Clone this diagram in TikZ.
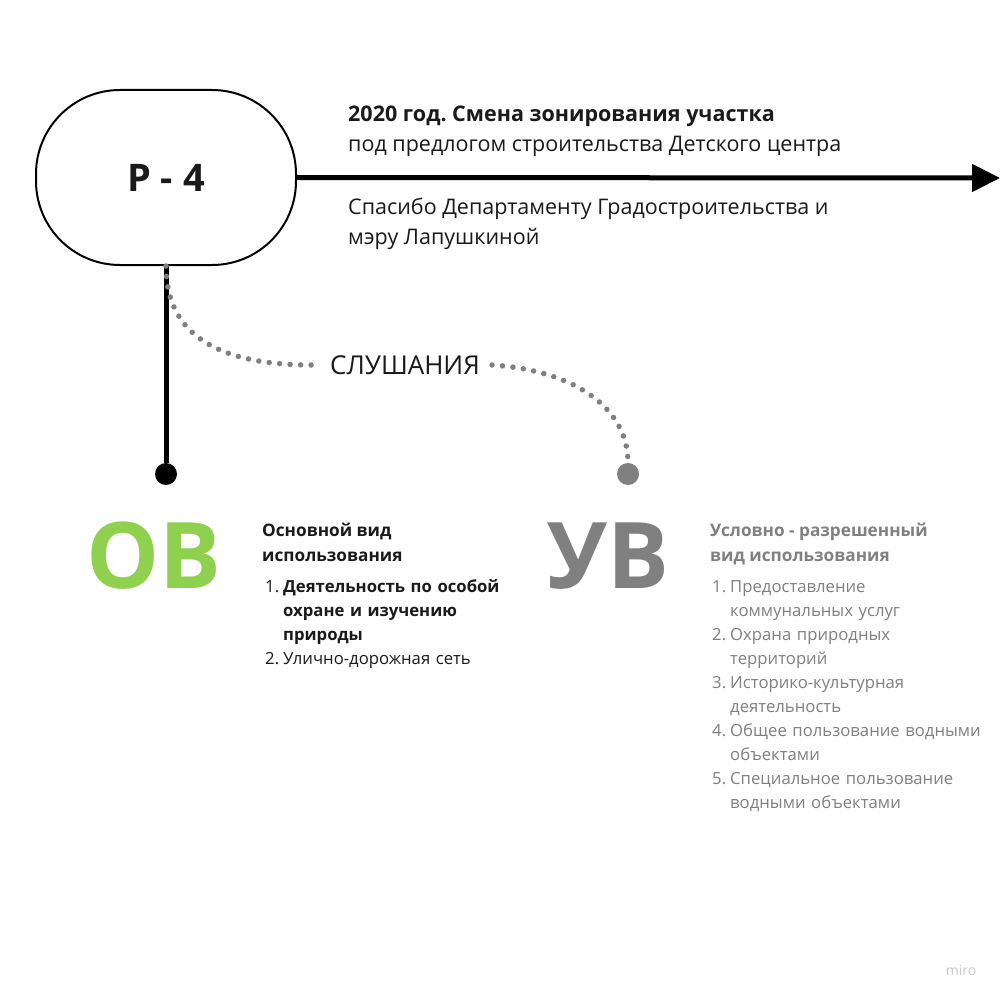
\documentclass[tikz,border=0pt]{standalone}
\usepackage{fontspec}
\setmainfont{Open Sans}
\frenchspacing
\usetikzlibrary{positioning,arrows.meta}
\definecolor{okgreen}{HTML}{8FD14F}
\definecolor{softgrey}{HTML}{808080}
\definecolor{inkblack}{HTML}{1A1A1A}
\definecolor{markgrey}{HTML}{C8C8C8}
\tikzset{
    zone/.style={draw=black, line width=2pt, rounded corners=84pt,
        minimum width=260pt, minimum height=175pt, inner sep=0pt,
        text=inkblack, font=\bfseries\fontsize{38}{40}\selectfont},
    timeline/.style={draw=black, line width=5pt,
        -{Triangle[length=28pt,width=27pt]}},
    ownline/.style={draw=black, line width=5pt},
    hearing/.style={draw=softgrey, line width=5.5pt, line cap=round,
        dash pattern=on 0pt off 10.5pt},
    pin/.style={circle, inner sep=0pt, minimum size=22pt},
    bigcode/.style={inner sep=0pt, anchor=base west,
        font=\bfseries\fontsize{92}{92}\selectfont},
    note/.style={inner sep=0pt, anchor=base west, align=left,
        font=\fontsize{21.5}{30}\selectfont, text=inkblack},
    head/.style={inner sep=0pt, anchor=base west, align=left,
        font=\bfseries\fontsize{17.2}{25}\selectfont},
    items/.style={inner sep=0pt, anchor=base west,
        text width=290pt, font=\fontsize{16.7}{24}\selectfont},
}
\newcommand{\numitem}[1]{\hangindent=18pt\hangafter=1\noindent\makebox[18pt][l]{#1}}

\begin{document}
\begin{tikzpicture}[x=1pt, y=-1pt]
\useasboundingbox (0,0) rectangle (1000,1000);
% zone box and time line
\node[zone] (p4) at (166,177.5) {Р - 4};
\coordinate (future) at (1000,178);
\draw[timeline] (p4.east) -- (future);
\node[note] (news) at (348,152) {\textbf{2020 год. Смена зонирования участка}\\
    под предлогом строительства Детского центра};
\node[note] (thanks) at (348,244) {Спасибо Департаменту Градостроительства и\\
    мэру Лапушкиной};
% main use
\node[pin, fill=black] (ovpin) at (166,474) {};
\draw[ownline] (p4.south) -- (ovpin);
% conditional use, after hearings
\node[pin, fill=softgrey] (uvpin) at (628,474) {};
\node[inner xsep=12pt, inner ysep=5pt, font=\fontsize{26}{26}\selectfont, text=inkblack]
    (hear) at (405,365) {СЛУШАНИЯ};
\draw[hearing] (p4.south) .. controls (166,345) and (235,366) .. (hear.west);
\draw[hearing] (hear.east) .. controls (570,370) and (628,405) .. (uvpin);
% OV block
\node[bigcode, text=okgreen] (ov) at (86,588) {ОВ};
\node[head, text=inkblack] (ovhead) at (262,561) {Основной вид\\использования};
\node[items, text=inkblack] (ovlist) at (265,592) {%
    \numitem{1.}\textbf{Деятельность по особой\newline охране и изучению\newline природы}\par
    \numitem{2.}Улично-дорожная сеть\par};
% UV block
\node[bigcode, text=softgrey] (uv) at (547,588) {УВ};
\node[head, text=softgrey] (uvhead) at (710,561) {Условно - разрешенный\\вид использования};
\node[items, text=softgrey] (uvlist) at (712,592) {%
    \numitem{1.}Предоставление\newline коммунальных услуг\par
    \numitem{2.}Охрана природных\newline территорий\par
    \numitem{3.}Историко-культурная\newline деятельность\par
    \numitem{4.}Общее пользование водными\newline объектами\par
    \numitem{5.}Специальное пользование\newline водными объектами\par};
\node[inner sep=0pt, text=markgrey, font=\fontsize{14}{14}\selectfont]
    (brand) at (961,970) {miro};
\end{tikzpicture}
\end{document}
